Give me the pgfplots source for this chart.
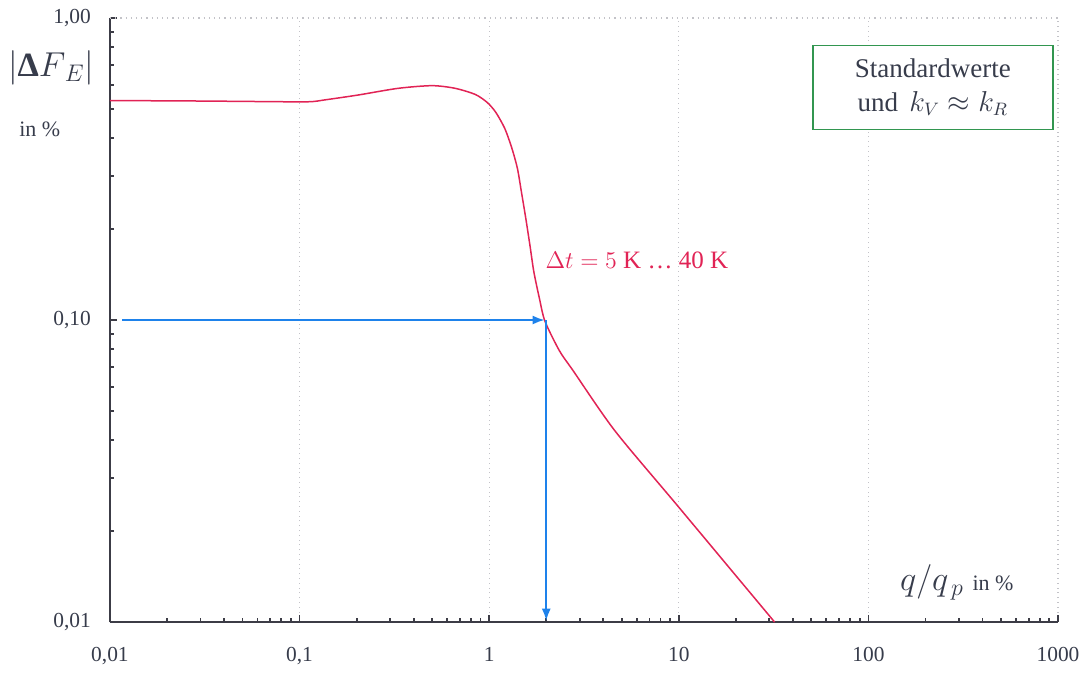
\documentclass[border=0pt]{standalone}
\usepackage{fontspec}
\setmainfont{Liberation Serif}
\usepackage{pgfplots}
\pgfplotsset{compat=1.18}
\usetikzlibrary{arrows.meta}
\definecolor{cred}{RGB}{225,35,85}
\definecolor{cblue}{RGB}{30,130,235}
\definecolor{cgreen}{RGB}{50,150,80}
\definecolor{caxis}{RGB}{60,60,70}
\definecolor{cgrid}{RGB}{195,195,200}
\definecolor{ctext}{RGB}{55,60,75}
\begin{document}
\begin{tikzpicture}
\begin{axis}[
  scale only axis, width=474pt, height=302pt,
  xmode=log, ymode=log,
  xmin=0.01, xmax=1000, ymin=0.01, ymax=1,
  axis lines*=left,
  axis line style={caxis, line width=1.2pt},
  tick align=inside,
  major tick length=3.5pt, minor tick length=2.2pt,
  every tick/.style={caxis, line width=0.9pt},
  xtick={0.01,0.1,1,10,100,1000},
  xticklabels={{0,01},{0,1},1,10,100,1000},
  minor xtick={0.02,0.03,0.04,0.05,0.06,0.07,0.08,0.09,
               0.2,0.3,0.4,0.5,0.6,0.7,0.8,0.9,
               2,3,4,5,6,7,8,9,
               20,30,40,50,60,70,80,90,
               200,300,400,500,600,700,800,900},
  ytick={0.01,0.1,1},
  yticklabels={{0,01},{0,10},{1,00}},
  minor ytick={0.02,0.03,0.04,0.05,0.06,0.07,0.08,0.09,
               0.2,0.3,0.4,0.5,0.6,0.7,0.8,0.9},
  xmajorgrids,
  major grid style={cgrid, dotted, line width=0.6pt},
  tick label style={font=\fontsize{10.7}{12}\selectfont, text=ctext},
  xticklabel style={yshift=-9pt},
  yticklabel style={xshift=-6pt},
  clip=false,
]
\draw[cgrid, dotted, line width=0.6pt] (rel axis cs:0,1) -- (rel axis cs:1,1);
\addplot[cred, line width=0.75pt, smooth, tension=0.45] coordinates {
  (0.01,0.533) (0.03,0.531) (0.06,0.529) (0.111,0.528) (0.137,0.536)
  (0.204,0.556) (0.331,0.585) (0.50,0.597) (0.662,0.585) (0.846,0.558)
  (0.977,0.525) (1.084,0.487) (1.21,0.43) (1.32,0.369) (1.41,0.317)
  (1.48,0.265) (1.56,0.217) (1.64,0.177) (1.72,0.1445) (1.84,0.118)
  (1.97,0.099) (2.35,0.079) (2.77,0.068) (4.6,0.043) (10,0.024) (32,0.01)
};
\addplot[cblue, line width=0.9pt, -{Latex[length=6pt,width=4.5pt]}] coordinates {(0.0116,0.1) (1.96,0.1)};
\addplot[cblue, line width=0.9pt, -{Latex[length=6pt,width=4.5pt]}] coordinates {(2,0.1) (2,0.0101)};
\node[anchor=base west, text=cred, font=\fontsize{12.5}{14}\selectfont] at (rel axis cs:0.452,0.585) {$\Delta t = 5$ K \dots\ 40 K};
\node[draw=cgreen, line width=0.8pt, fill=white, minimum width=120pt, minimum height=42pt,
      align=center, text=ctext, font=\fontsize{13.5}{17}\selectfont] at (rel axis cs:0.868,0.885)
      {Standardwerte\\und \,$k_V \approx k_R$};
\node[text=ctext, font=\fontsize{17}{20}\selectfont] at (rel axis cs:-0.062,0.917) {$|\textbf{Δ}F_{\,E}|$};
\node[text=ctext, font=\fontsize{11}{13}\selectfont] at (rel axis cs:-0.074,0.815) {in \%};
\node[anchor=base west, text=ctext, font=\fontsize{17}{20}\selectfont] at (rel axis cs:0.826,0.052) {$q/q_{\,p}$ \fontsize{11}{13}\selectfont in \%};
\coordinate (bbSW) at (rel axis cs:-0.116,-0.106);
\coordinate (bbNE) at (rel axis cs:1.0232,1.0298);
\end{axis}
\pgfresetboundingbox
\path[use as bounding box] (bbSW) rectangle (bbNE);
\end{tikzpicture}
\end{document}
